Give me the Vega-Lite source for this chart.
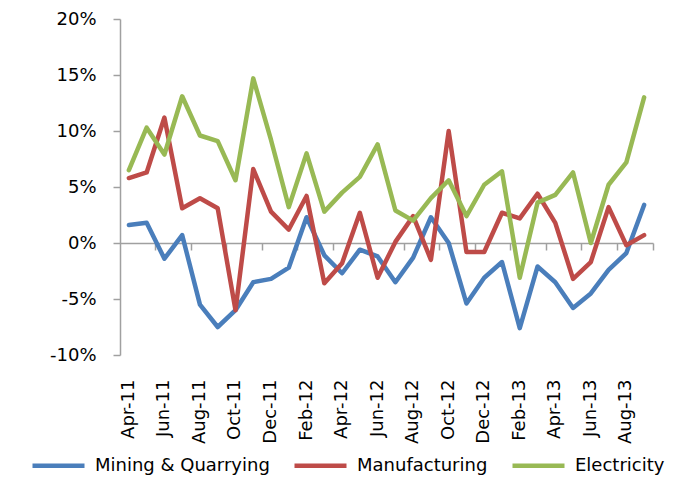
{
  "$schema": "https://vega.github.io/schema/vega-lite/v6.json",
  "width": 533,
  "height": 336,
  "autosize": {"type": "none"},
  "padding": {"left": 120, "top": 19, "right": 21, "bottom": 123},
  "background": "white",
  "config": {
    "view": {"stroke": null},
    "axis": {"grid": false, "title": null}
  },
  "data": {
    "values": [
      {"month": "Apr-11", "series": "Mining & Quarrying", "growth": 1.6},
      {"month": "May-11", "series": "Mining & Quarrying", "growth": 1.8},
      {"month": "Jun-11", "series": "Mining & Quarrying", "growth": -1.4},
      {"month": "Jul-11", "series": "Mining & Quarrying", "growth": 0.7},
      {"month": "Aug-11", "series": "Mining & Quarrying", "growth": -5.5},
      {"month": "Sep-11", "series": "Mining & Quarrying", "growth": -7.5},
      {"month": "Oct-11", "series": "Mining & Quarrying", "growth": -6.0},
      {"month": "Nov-11", "series": "Mining & Quarrying", "growth": -3.5},
      {"month": "Dec-11", "series": "Mining & Quarrying", "growth": -3.2},
      {"month": "Jan-12", "series": "Mining & Quarrying", "growth": -2.2},
      {"month": "Feb-12", "series": "Mining & Quarrying", "growth": 2.3},
      {"month": "Mar-12", "series": "Mining & Quarrying", "growth": -1.1},
      {"month": "Apr-12", "series": "Mining & Quarrying", "growth": -2.7},
      {"month": "May-12", "series": "Mining & Quarrying", "growth": -0.6},
      {"month": "Jun-12", "series": "Mining & Quarrying", "growth": -1.2},
      {"month": "Jul-12", "series": "Mining & Quarrying", "growth": -3.5},
      {"month": "Aug-12", "series": "Mining & Quarrying", "growth": -1.3},
      {"month": "Sep-12", "series": "Mining & Quarrying", "growth": 2.3},
      {"month": "Oct-12", "series": "Mining & Quarrying", "growth": 0.0},
      {"month": "Nov-12", "series": "Mining & Quarrying", "growth": -5.4},
      {"month": "Dec-12", "series": "Mining & Quarrying", "growth": -3.1},
      {"month": "Jan-13", "series": "Mining & Quarrying", "growth": -1.7},
      {"month": "Feb-13", "series": "Mining & Quarrying", "growth": -7.6},
      {"month": "Mar-13", "series": "Mining & Quarrying", "growth": -2.1},
      {"month": "Apr-13", "series": "Mining & Quarrying", "growth": -3.5},
      {"month": "May-13", "series": "Mining & Quarrying", "growth": -5.8},
      {"month": "Jun-13", "series": "Mining & Quarrying", "growth": -4.5},
      {"month": "Jul-13", "series": "Mining & Quarrying", "growth": -2.4},
      {"month": "Aug-13", "series": "Mining & Quarrying", "growth": -0.9},
      {"month": "Sep-13", "series": "Mining & Quarrying", "growth": 3.4},
      {"month": "Apr-11", "series": "Manufacturing", "growth": 5.8},
      {"month": "May-11", "series": "Manufacturing", "growth": 6.3},
      {"month": "Jun-11", "series": "Manufacturing", "growth": 11.2},
      {"month": "Jul-11", "series": "Manufacturing", "growth": 3.1},
      {"month": "Aug-11", "series": "Manufacturing", "growth": 4.0},
      {"month": "Sep-11", "series": "Manufacturing", "growth": 3.1},
      {"month": "Oct-11", "series": "Manufacturing", "growth": -6.0},
      {"month": "Nov-11", "series": "Manufacturing", "growth": 6.6},
      {"month": "Dec-11", "series": "Manufacturing", "growth": 2.8},
      {"month": "Jan-12", "series": "Manufacturing", "growth": 1.2},
      {"month": "Feb-12", "series": "Manufacturing", "growth": 4.2},
      {"month": "Mar-12", "series": "Manufacturing", "growth": -3.6},
      {"month": "Apr-12", "series": "Manufacturing", "growth": -1.8},
      {"month": "May-12", "series": "Manufacturing", "growth": 2.7},
      {"month": "Jun-12", "series": "Manufacturing", "growth": -3.1},
      {"month": "Jul-12", "series": "Manufacturing", "growth": 0.1},
      {"month": "Aug-12", "series": "Manufacturing", "growth": 2.4},
      {"month": "Sep-12", "series": "Manufacturing", "growth": -1.5},
      {"month": "Oct-12", "series": "Manufacturing", "growth": 10.0},
      {"month": "Nov-12", "series": "Manufacturing", "growth": -0.8},
      {"month": "Dec-12", "series": "Manufacturing", "growth": -0.8},
      {"month": "Jan-13", "series": "Manufacturing", "growth": 2.7},
      {"month": "Feb-13", "series": "Manufacturing", "growth": 2.2},
      {"month": "Mar-13", "series": "Manufacturing", "growth": 4.4},
      {"month": "Apr-13", "series": "Manufacturing", "growth": 1.8},
      {"month": "May-13", "series": "Manufacturing", "growth": -3.2},
      {"month": "Jun-13", "series": "Manufacturing", "growth": -1.7},
      {"month": "Jul-13", "series": "Manufacturing", "growth": 3.2},
      {"month": "Aug-13", "series": "Manufacturing", "growth": -0.2},
      {"month": "Sep-13", "series": "Manufacturing", "growth": 0.7},
      {"month": "Apr-11", "series": "Electricity", "growth": 6.5},
      {"month": "May-11", "series": "Electricity", "growth": 10.3},
      {"month": "Jun-11", "series": "Electricity", "growth": 7.9},
      {"month": "Jul-11", "series": "Electricity", "growth": 13.1},
      {"month": "Aug-11", "series": "Electricity", "growth": 9.6},
      {"month": "Sep-11", "series": "Electricity", "growth": 9.1},
      {"month": "Oct-11", "series": "Electricity", "growth": 5.6},
      {"month": "Nov-11", "series": "Electricity", "growth": 14.7},
      {"month": "Dec-11", "series": "Electricity", "growth": 9.2},
      {"month": "Jan-12", "series": "Electricity", "growth": 3.2},
      {"month": "Feb-12", "series": "Electricity", "growth": 8.0},
      {"month": "Mar-12", "series": "Electricity", "growth": 2.8},
      {"month": "Apr-12", "series": "Electricity", "growth": 4.5},
      {"month": "May-12", "series": "Electricity", "growth": 5.9},
      {"month": "Jun-12", "series": "Electricity", "growth": 8.8},
      {"month": "Jul-12", "series": "Electricity", "growth": 2.9},
      {"month": "Aug-12", "series": "Electricity", "growth": 2.0},
      {"month": "Sep-12", "series": "Electricity", "growth": 4.0},
      {"month": "Oct-12", "series": "Electricity", "growth": 5.6},
      {"month": "Nov-12", "series": "Electricity", "growth": 2.4},
      {"month": "Dec-12", "series": "Electricity", "growth": 5.2},
      {"month": "Jan-13", "series": "Electricity", "growth": 6.4},
      {"month": "Feb-13", "series": "Electricity", "growth": -3.1},
      {"month": "Mar-13", "series": "Electricity", "growth": 3.6},
      {"month": "Apr-13", "series": "Electricity", "growth": 4.3},
      {"month": "May-13", "series": "Electricity", "growth": 6.3},
      {"month": "Jun-13", "series": "Electricity", "growth": 0.0},
      {"month": "Jul-13", "series": "Electricity", "growth": 5.2},
      {"month": "Aug-13", "series": "Electricity", "growth": 7.2},
      {"month": "Sep-13", "series": "Electricity", "growth": 13.0}
    ]
  },
  "encoding": {
    "x": {
      "field": "month",
      "type": "ordinal",
      "sort": null,
      "scale": {"type": "band", "paddingInner": 0, "paddingOuter": 0}
    },
    "y": {
      "field": "growth",
      "type": "quantitative",
      "scale": {"domain": [-10, 20], "nice": false, "zero": false},
      "axis": {
        "values": [-10, -5, 0, 5, 10, 15, 20],
        "labelExpr": "datum.value + '%'",
        "labelFont": "DejaVu Sans",
        "labelFontSize": 18,
        "labelColor": "#000000",
        "labelPadding": 17,
        "tickSize": 7,
        "tickColor": "#A0A0A0",
        "tickWidth": 1.5,
        "domainColor": "#A0A0A0",
        "domainWidth": 1.5
      }
    }
  },
  "layer": [
    {
      "mark": {"type": "point", "opacity": 0},
      "encoding": {
        "x": {
          "field": "month",
          "type": "ordinal",
          "sort": null,
          "axis": {
            "orient": "bottom",
            "offset": {"expr": "scale('y', 0) - height"},
            "values": ["May-11", "Jul-11", "Sep-11", "Nov-11", "Jan-12", "Mar-12", "May-12", "Jul-12", "Sep-12", "Nov-12", "Jan-13", "Mar-13", "May-13", "Jul-13", "Sep-13"],
            "bandPosition": 1,
            "labels": false,
            "ticks": true,
            "tickSize": 7,
            "tickColor": "#A0A0A0",
            "tickWidth": 1.5,
            "domainColor": "#A0A0A0",
            "domainWidth": 1.5
          }
        }
      }
    },
    {
      "mark": {"type": "line", "strokeWidth": 4.5, "strokeJoin": "round", "strokeCap": "round"},
      "encoding": {
        "x": {
          "field": "month",
          "type": "ordinal",
          "sort": null,
          "axis": {
            "orient": "bottom",
            "values": ["Apr-11", "Jun-11", "Aug-11", "Oct-11", "Dec-11", "Feb-12", "Apr-12", "Jun-12", "Aug-12", "Oct-12", "Dec-12", "Feb-13", "Apr-13", "Jun-13", "Aug-13"],
            "labelAngle": -90,
            "labelFont": "DejaVu Sans",
            "labelFontSize": 18,
            "labelColor": "#000000",
            "labelPadding": 24,
            "labelOverlap": false,
            "ticks": false,
            "tickSize": 0,
            "domain": false
          }
        },
        "color": {
          "field": "series",
          "type": "nominal",
          "sort": ["Mining & Quarrying", "Manufacturing", "Electricity"],
          "scale": {
            "domain": ["Mining & Quarrying", "Manufacturing", "Electricity"],
            "range": ["#4A7EBB", "#BE4B48", "#98B954"]
          },
          "legend": {
            "title": null,
            "orient": "none",
            "direction": "horizontal",
            "legendX": -90,
            "legendY": 418,
            "padding": 0,
            "symbolType": "stroke",
            "symbolSize": 2704,
            "symbolStrokeWidth": 4.5,
            "labelOffset": 8,
            "labelLimit": 300,
            "columnPadding": 15,
            "labelFont": "DejaVu Sans",
            "labelFontSize": 18,
            "labelColor": "#000000"
          }
        }
      }
    }
  ],
  "resolve": {"axis": {"x": "independent"}}
}
